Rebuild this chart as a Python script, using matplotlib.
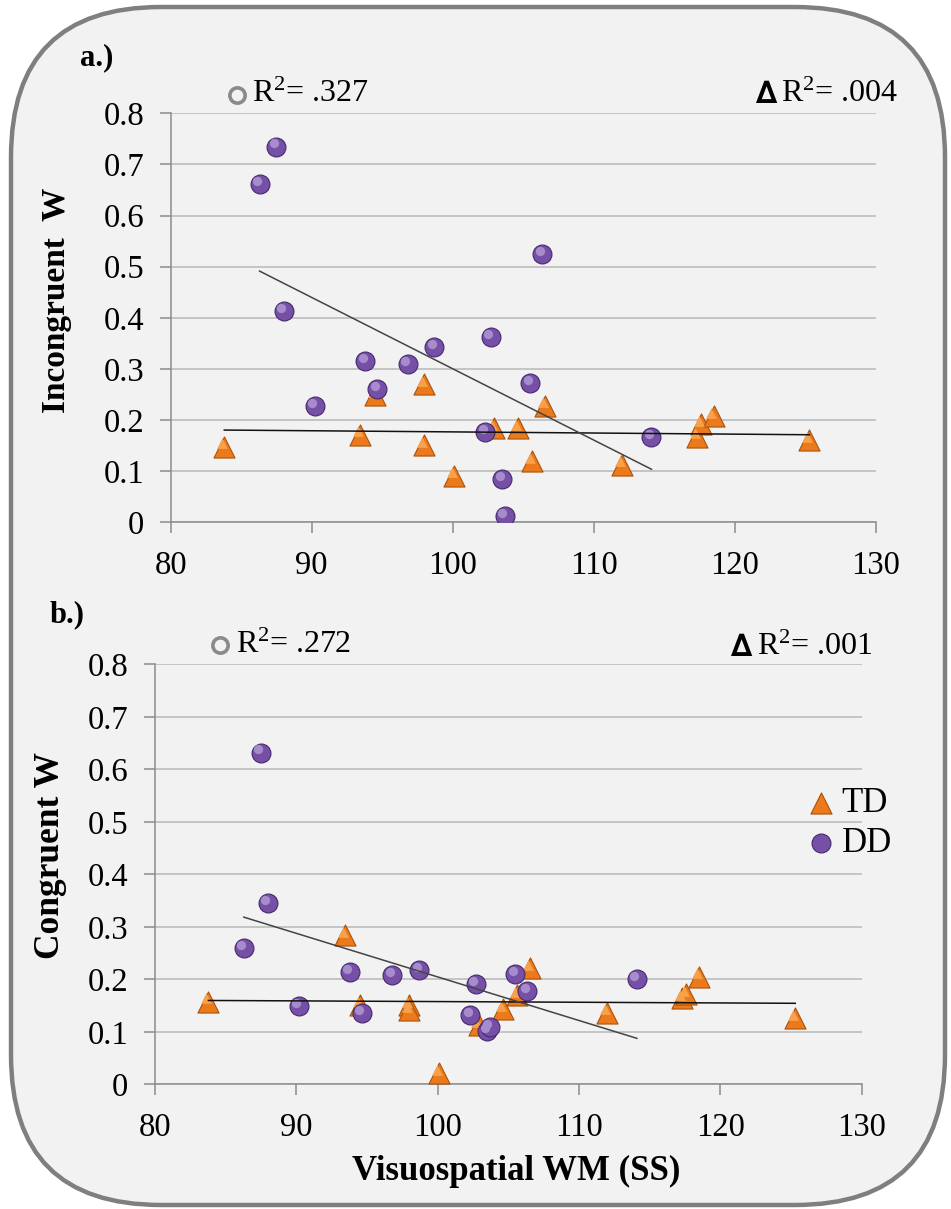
import numpy as np
import matplotlib
matplotlib.use("Agg")
import matplotlib.pyplot as plt
from matplotlib.patches import FancyBboxPatch
from matplotlib.transforms import IdentityTransform, offset_copy
from matplotlib.ticker import FuncFormatter, MultipleLocator

plt.rcParams["font.family"] = ["Liberation Serif", "DejaVu Serif"]
plt.rcParams["mathtext.fontset"] = "custom"
plt.rcParams["mathtext.rm"] = "Liberation Serif"

# Visuospatial WM (SS) for each child, by group
td_x = [83.8, 93.45, 94.5, 98.0, 98.0, 100.1, 102.9, 104.65, 105.65, 106.55, 112.0, 117.3, 117.6, 118.5, 125.3]
dd_x = [86.3, 87.5, 88.0, 90.2, 93.8, 94.65, 96.8, 98.7, 102.3, 102.7, 103.5, 103.7, 105.5, 106.35, 114.1]

# a.) Incongruent W
td_incong = [0.148, 0.171, 0.249, 0.270, 0.151, 0.091, 0.184, 0.184, 0.119, 0.228, 0.113, 0.167, 0.192, 0.207, 0.161]
dd_incong = [0.662, 0.735, 0.413, 0.227, 0.315, 0.261, 0.310, 0.342, 0.177, 0.362, 0.085, 0.013, 0.273, 0.525, 0.166]

# b.) Congruent W
td_cong = [0.157, 0.284, 0.151, 0.151, 0.141, 0.021, 0.113, 0.143, 0.170, 0.221, 0.136, 0.164, 0.172, 0.205, 0.126]
dd_cong = [0.259, 0.632, 0.345, 0.150, 0.214, 0.135, 0.209, 0.218, 0.132, 0.191, 0.102, 0.110, 0.211, 0.178, 0.200]

panels = [
    ("a.)", "Incongruent  W", td_incong, dd_incong, ".327", ".004"),
    ("b.)", "Congruent W", td_cong, dd_cong, ".272", ".001"),
]

W, H = 951, 1209
TD_COLOR, TD_EDGE = "#ec7a1c", "#a9520b"
DD_COLOR, DD_EDGE = "#7550a6", "#46286e"

fig = plt.figure(figsize=(W / 100, H / 100), dpi=100, facecolor="white")

# rounded grey card behind both charts (pixel coordinates)
card = FancyBboxPatch((11, 4), 934, 1198, boxstyle="round,pad=0,rounding_size=150",
                      facecolor="#f2f2f2", edgecolor="#7f7f7f", linewidth=3.2,
                      transform=IdentityTransform(), zorder=-5)
fig.patches.append(card)

rects = [(0.1795, 0.5680, 0.7413, 0.3383), (0.1627, 0.1031, 0.7434, 0.3474)]
label_pos = [(80, 58), (50, 615)]
circ_pos = [(0.094, 1.045), (0.093, 1.045)]
delta_pos = [(1.032, 1.045), (1.015, 1.04)]
ylab_xy = [(-0.14, 0.543), (-0.124, 0.546)]
ylab_size = [24, 25.5]


def fmt(v, _):
    return "0" if abs(v) < 1e-9 else f"{v:.1f}"


for i, (tag, ylab, td_y, dd_y, r2, dr2) in enumerate(panels):
    ax = fig.add_axes(rects[i])
    ax.set_facecolor("none")
    ax.set_xlim(80, 130)
    ax.set_ylim(0, 0.8)
    ax.xaxis.set_major_locator(MultipleLocator(10))
    ax.yaxis.set_major_locator(MultipleLocator(0.1))
    ax.yaxis.set_major_formatter(FuncFormatter(fmt))
    ax.grid(axis="y", color="#c4c4c4", linewidth=1.4)
    ax.set_axisbelow(True)
    for s in ("top", "right"):
        ax.spines[s].set_visible(False)
    for s in ("left", "bottom"):
        ax.spines[s].set_color("#8c8c8c")
        ax.spines[s].set_linewidth(1.1)
    ax.tick_params(direction="out", length=8, width=1.1, color="#8c8c8c",
                   labelsize=23.5, pad=11)
    ax.tick_params(axis="x", pad=12)

    # markers with a small highlight to mimic the shaded look
    ax.scatter(td_x, td_y, marker="^", s=230, color=TD_COLOR, edgecolor=TD_EDGE,
               linewidth=0.8, zorder=3)
    hl = offset_copy(ax.transData, fig=fig, x=-1.5, y=2.5, units="points")
    ax.scatter(td_x, td_y, marker="^", s=60, color="#f7a24a", linewidth=0,
               transform=hl, zorder=3.1)
    ax.scatter(dd_x, dd_y, marker="o", s=185, color=DD_COLOR, edgecolor=DD_EDGE,
               linewidth=0.8, zorder=4)
    hl2 = offset_copy(ax.transData, fig=fig, x=-1.8, y=2.2, units="points")
    ax.scatter(dd_x, dd_y, marker="o", s=45, color="#a68ccc", linewidth=0,
               transform=hl2, zorder=4.1)

    # linear trend lines over each group's x range
    for xs, ys, col in ((td_x, td_y, "#111111"), (dd_x, dd_y, "#444444")):
        k, b = np.polyfit(xs, ys, 1)
        xx = np.array([min(xs), max(xs)])
        ax.plot(xx, k * xx + b, color=col, linewidth=1.1, zorder=5)

    ax.set_ylabel(ylab, fontsize=ylab_size[i], fontweight="bold")
    ax.yaxis.set_label_coords(*ylab_xy[i])

    # R^2 annotations
    cx, cy = circ_pos[i]
    ax.plot([cx], [cy], marker="o", markersize=11, markerfacecolor="none",
            markeredgecolor="#8a8a8a", markeredgewidth=2.6,
            transform=ax.transAxes, clip_on=False)
    ax.text(cx + 0.022, cy, f"$\\mathregular{{R^2}}$= {r2}", transform=ax.transAxes,
            fontsize=23, va="center", ha="left")
    dx, dy = delta_pos[i]
    t = ax.text(dx, dy, f"$\\mathregular{{R^2}}$= {dr2}", transform=ax.transAxes,
                fontsize=23, va="center", ha="right")
    ax.annotate("∆", xy=(0, 0.5), xycoords=t, xytext=(-3, 0),
                textcoords="offset points", ha="right", va="center",
                fontsize=22, fontweight="bold", family="DejaVu Sans")

    fig.text(label_pos[i][0] / W, 1 - label_pos[i][1] / H, tag, fontsize=22,
             fontweight="bold", va="center", ha="left")

    if i == 1:
        ax.set_xlabel("Visuospatial WM (SS)", fontsize=25, fontweight="bold")
        ax.xaxis.set_label_coords(0.511, -0.168)
        ax.xaxis.label.set_va("top")
        h_td = ax.scatter([], [], marker="^", s=230, color=TD_COLOR, edgecolor=TD_EDGE, linewidth=0.8)
        h_dd = ax.scatter([], [], marker="o", s=185, color=DD_COLOR, edgecolor=DD_EDGE, linewidth=0.8)
        ax.legend([h_td, h_dd], ["TD", "DD"], loc="center left",
                  bbox_to_anchor=(0.898, 0.62), frameon=False, fontsize=25,
                  handletextpad=0.1, handlelength=1.0, labelspacing=0.2,
                  borderaxespad=0)

fig.savefig("out.png", dpi=100, facecolor="white")
